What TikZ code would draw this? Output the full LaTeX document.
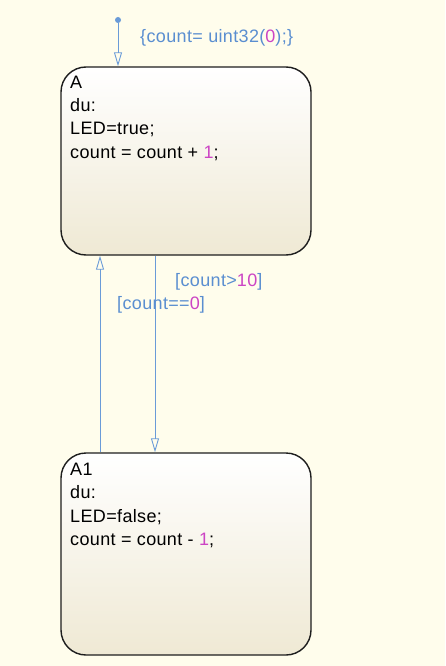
\documentclass[tikz,border=0pt]{standalone}
\usepackage{fontspec}
\setmainfont{Liberation Sans}[LetterSpace=2]
\usetikzlibrary{arrows.meta,calc}
\definecolor{bg}{HTML}{FFFDEC}
\definecolor{transblue}{HTML}{6A9BD8}
\definecolor{lblblue}{HTML}{5A8ED0}
\definecolor{numpink}{HTML}{CC44C4}
\definecolor{boxbottom}{HTML}{EFE9D4}
\definecolor{boxborder}{HTML}{1E1E1E}
\tikzset{
  statebox/.style={draw=boxborder, line width=1.4pt, rounded corners=25pt,
    top color=white, bottom color=boxbottom, minimum width=250pt, inner sep=0pt},
  stxt/.style={anchor=base west, inner sep=0pt, font=\fontsize{18}{23}\selectfont, text=black},
  ltxt/.style={anchor=base west, inner sep=0pt, font=\fontsize{18}{23}\selectfont, text=lblblue},
  trans/.style={draw=transblue, line width=0.9pt, -{Triangle[open, length=14pt, width=8pt]}},
}
\newcommand{\num}[1]{\textcolor{numpink}{#1}}
\begin{document}
\begin{tikzpicture}[x=1pt,y=-1pt]
\fill[bg] (0,0) rectangle (445,666);
\useasboundingbox (0,0) rectangle (445,666);
% states
\node[statebox, minimum height=188pt] (A) at (186,161) {};
\node[statebox, minimum height=202pt] (A1) at (186,554) {};
% state A text
\node[stxt] (Aname) at (70,89) {A};
\node[stxt] (Adu) at (70,112) {du:};
\node[stxt] (Aled) at (70,135) {LED=true;};
\node[stxt] (Acnt) at (70,158) {count = count + \num{1};};
% state A1 text
\node[stxt] (A1name) at (70,475) {A1};
\node[stxt] (A1du) at (70,498) {du:};
\node[stxt] (A1led) at (70,522) {LED=false;};
\node[stxt] (A1cnt) at (70,545) {count = count - \num{1};};
% default transition
\node[circle, fill=transblue, inner sep=0pt, minimum size=6pt] (init) at (118,20) {};
\draw[trans] (init) -- (init |- A.north);
\node[ltxt] (initlbl) at (140,43) {\{count= uint32(\num{0});\}};
% transitions
\coordinate (t1s) at ($(A.south)+(-31,0)$);
\coordinate (t1e) at ($(A1.north)+(-31,0)$);
\draw[trans] (t1s) -- (t1e);
\node[ltxt] (t1lbl) at (175,286) {[count>\num{10}]};
\coordinate (t2s) at ($(A1.north)+(-86,0)$);
\coordinate (t2e) at ($(A.south)+(-86,0)$);
\draw[trans] (t2s) -- (t2e);
\node[ltxt] (t2lbl) at (117,309) {[count==\num{0}]};
\end{tikzpicture}
\end{document}
